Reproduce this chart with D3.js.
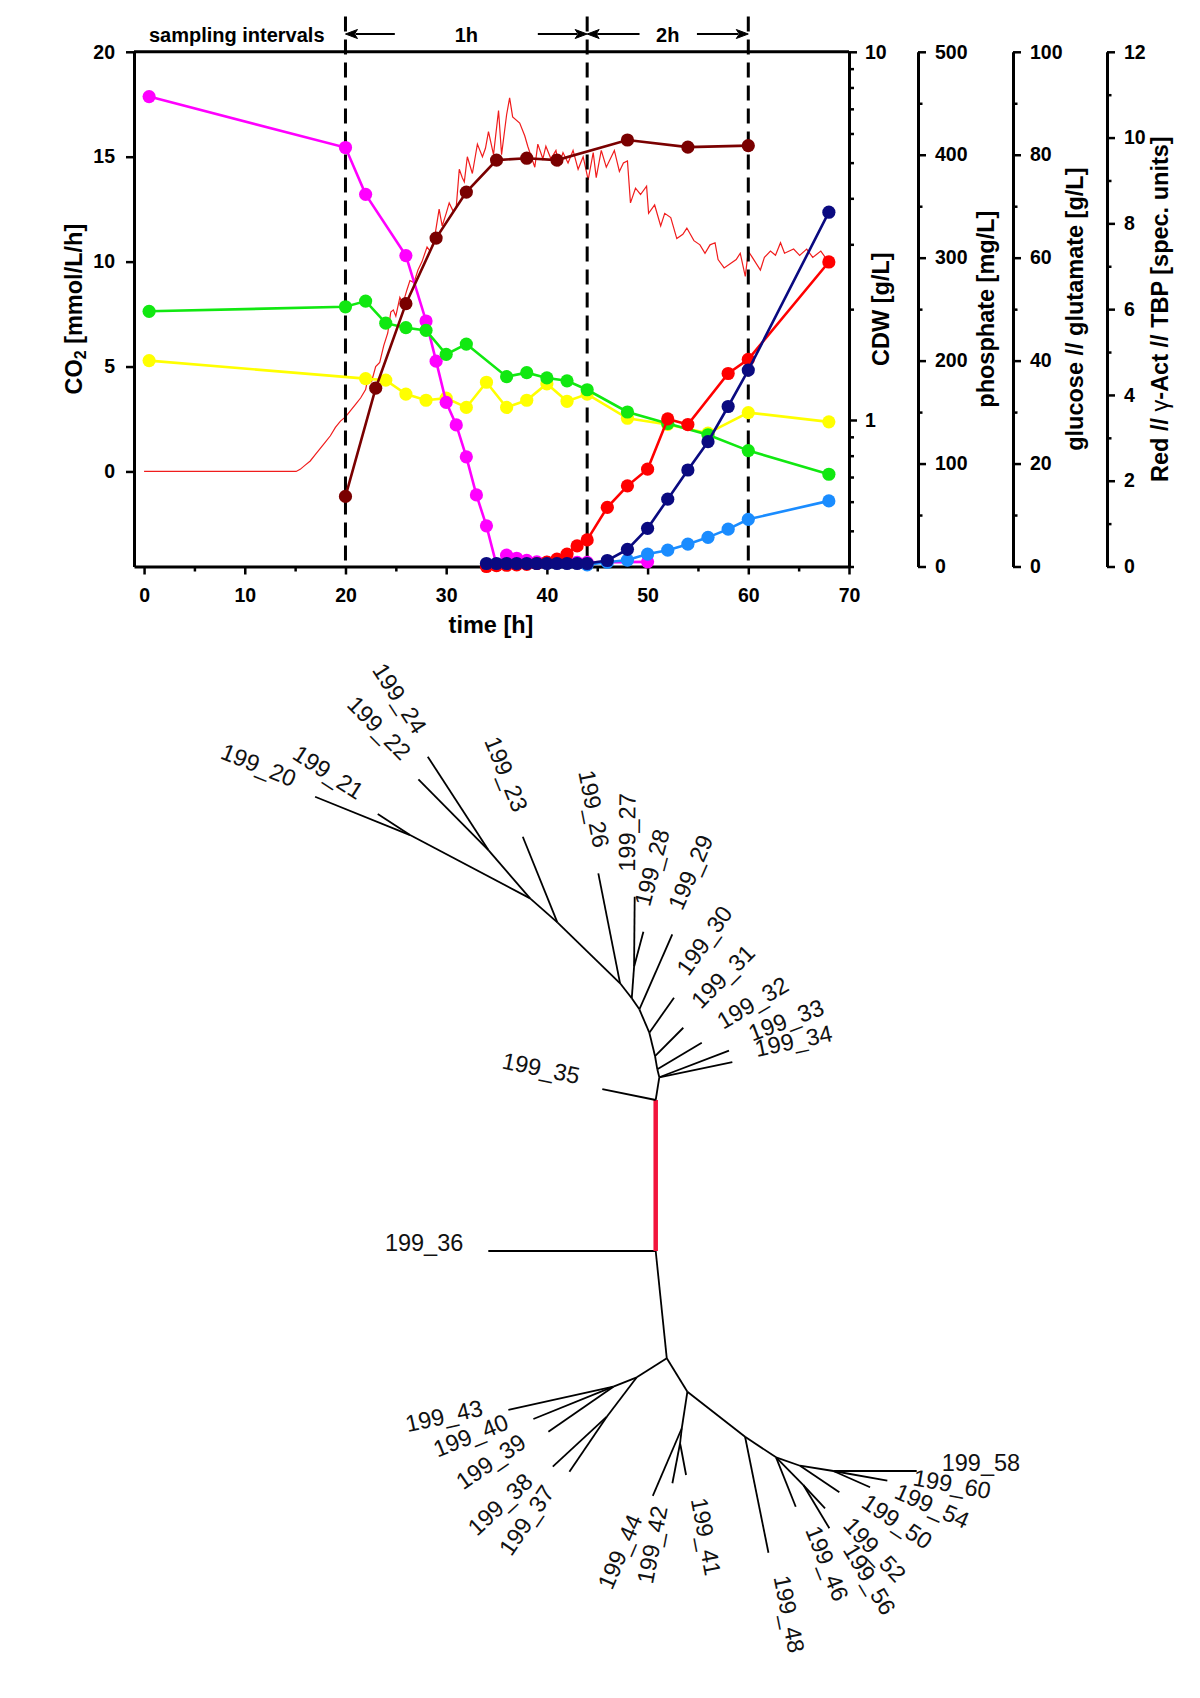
<!DOCTYPE html>
<html><head><meta charset="utf-8">
<script src="https://cdn.jsdelivr.net/npm/d3@7"></script>
<style>body{margin:0;background:#fff}svg{display:block}</style>
</head><body>
<svg id="c" width="1200" height="1698"></svg>
<script>
// ---------- tick values ----------
const timeMajor = [0,10,20,30,40,50,60,70];
const timeMinor = [5,15,25,35,45,55,65];
const co2Ticks = [0,5,10,15,20];
const cdwMajor = [1,10];
const cdwMinor = [0.4,0.5,0.6,0.7,0.8,0.9,2,3,4,5,6,7,8,9];
const phosMajor = [0,100,200,300,400,500];
const phosMinor = [50,150,250,350,450];
const glcMajor = [0,20,40,60,80,100];
const glcMinor = [10,30,50,70,90];
const specMajor = [0,2,4,6,8,10,12];
const specMinor = [1,3,5,7,9,11];
const intervalLines = [20,44,60];

// ---------- online CO2 ----------
const co2Time = [0,15.1,15.5,16,16.5,17,17.5,18,18.5,19,19.5,20,20.5,21,21.5,22,22.3,22.6,23,23.4,23.8,24.2,24.5,24.75,25,25.4,25.7,26.1,26.4,26.8,27.2,27.6,28.1,28.4,28.8,29.3,29.6,30,30.3,30.7,31,31.3,31.6,31.8,32.1,32.6,33.1,33.6,33.9,34.2,34.7,35.2,35.5,36,36.3,36.6,37.3,37.8,38.1,38.8,39.1,39.6,39.9,40.4,40.9,41.2,41.6,42.1,42.6,43.1,43.6,44.1,44.6,44.9,45.4,45.9,46.4,46.7,47.2,47.6,48,48.3,48.8,49.3,49.9,50.1,50.7,51.3,51.7,52.3,52.9,53.5,53.9,54.6,55.2,55.7,56.2,56.7,57,57.6,58.2,58.8,59.2,59.7,60,60.4,61.2,61.6,62.2,62.7,63.2,63.6,64.5,65.1,65.8,66.4,67.2,67.8];
const co2Rate = [0,0,0.1,0.3,0.5,0.8,1.1,1.4,1.7,2.1,2.4,2.6,2.9,3.2,3.5,3.9,4.6,4.3,5.0,5.2,6.0,6.6,7.6,7.7,7.4,8.3,8.0,8.65,9.1,9.0,9.6,10.0,10.7,10.5,11.0,12.5,11.7,12.3,12.8,12.4,12.6,14.4,14.0,13.8,15.0,14.2,15.6,15.0,15.4,16.2,15.1,17.2,15.1,17.0,17.8,16.9,16.6,16.0,15.5,14.5,15.6,14.9,15.5,14.9,15.3,14.6,15.2,14.7,15.3,14.4,15.0,13.9,15.2,14.0,15.3,14.5,15.0,15.3,14.3,14.7,14.8,12.8,13.5,13.2,13.6,12.3,12.7,11.7,12.3,12.1,11.1,11.3,11.6,11.0,10.8,10.4,10.8,10.9,10.1,9.7,9.9,10.1,10.4,9.3,10.5,10.2,9.6,10.2,10.5,10.3,10.9,10.4,10.6,10.3,10.6,10.2,10.5,10.1];

// ---------- offline samples ----------
const glucoseTime = [0.5,20,22,26,28,29,30,31,32,33,34,35,36,37,38,39,40,41,42,43,44,50];
const glucoseVal  = [91.3,81.4,72.3,60.4,47.7,39.9,31.9,27.5,21.3,13.9,7.9,0.3,2.2,1.6,1.2,0.9,0.8,0.8,0.8,0.8,0.8,0.9];
const phosphateTime = [0.5,20,22,24,26,28,30,32,36,38,40,42,44,48,52,56,60,68];
const phosphateVal  = [247.9,252.3,257.8,236.4,232,229.4,206.1,216.1,184.4,188.3,183.2,180.4,171.7,150.1,138.9,128,112.6,89.6];
const glutamateTime = [0.5,22,24,26,28,30,32,34,36,38,40,42,44,48,52,56,60,68];
const glutamateVal  = [40.0,36.5,36.2,33.5,32.3,32.7,30.9,35.8,30.9,32.3,35.5,32.1,33.5,28.8,27.6,25.9,29.9,28.1];
const cdwTime = [20,23,26,29,32,35,38,41,48,54,60];
const cdwVal  = [0.62,1.22,2.07,3.12,4.16,5.08,5.14,5.08,5.76,5.51,5.56];
const redTime = [34,35,36,37,38,39,40,41,42,43,44,46,48,50,52,54,58,60,68];
const redVal  = [0.0,0.02,0.03,0.04,0.05,0.07,0.1,0.17,0.29,0.48,0.62,1.38,1.88,2.27,3.44,3.31,4.5,4.83,7.1];
const actTime = [44,46,48,50,52,54,56,58,60,68];
const actVal  = [0.04,0.1,0.15,0.29,0.38,0.52,0.68,0.87,1.1,1.53];
const tbpTime = [34,35,36,37,38,39,40,41,42,43,44,46,48,50,52,54,56,58,60,68];
const tbpVal  = [0.07,0.07,0.07,0.07,0.07,0.07,0.07,0.07,0.07,0.07,0.07,0.14,0.4,0.89,1.57,2.25,2.91,3.73,4.58,8.26];

// ---------- tree (flat) ----------
const treeId     = ["R0","L36","U","L35","N34","L34","L33","N32","L32","N31","L31","N30","L30","N29","L29","N27","N28","L27","L28","N26","L26","N23","L23","N22","N24","L24","L22","N21","L20","L21","B","C","D","L43","L40","L39","E","L38","L37","F","G","L44","H","L42","L41","I","L48","J","L46","K","L52","L56","N50","L50","M","L54","L60","L58"];
const treeParent = ["","R0","R0","U","U","N34","N34","N34","N32","N32","N31","N31","N30","N30","N29","N29","N27","N28","N28","N27","N26","N26","N23","N23","N22","N24","N24","N22","N21","N21","R0","B","C","D","D","D","C","E","E","B","F","G","G","H","H","F","I","I","J","J","K","K","J","N50","N50","M","M","M"];
const branchLen  = [0,1.674,1.51,0.545,0.23,0.746,0.746,0.082,0.518,0.135,0.40,0.24,0.428,0.254,0.819,0.134,0.317,0.70,0.362,0.19,1.121,0.875,0.923,0.363,0.638,1.113,0.995,1.357,1.024,0.385,1.079,0.355,0.252,1.076,0.863,0.791,0.495,0.736,0.665,0.392,0.37,0.736,0.151,0.407,0.323,0.732,1.183,0.372,0.532,0.389,0.318,0.505,0.254,0.475,0.337,0.402,0.549,0.834];
const branchAngle= [0,180,-90,-168.4,-81,-11.8,-20.9,-104,-30.9,-99.8,-45,-103.7,-54.8,-113.1,-66.3,-124.6,-85.8,-89.5,-75.1,-127.9,-101.2,-135.8,-112,-138.7,-130.8,-123,-134.7,-152.2,-158,-147,84.1,147.7,158.1,167.5,158,145.3,127.3,137.2,124.2,58.3,98.7,113.2,96.5,100.9,79.3,38,78.6,33.6,68.3,45.4,47,59,19.3,34.1,9,23.9,10.2,0];
const treeLabel  = ["","199_36","","199_35","","199_34","199_33","","199_32","","199_31","","199_30","","199_29","","","199_27","199_28","","199_26","","199_23","","","199_24","199_22","","199_20","199_21","","","","199_43","199_40","199_39","","199_38","199_37","","","199_44","","199_42","199_41","","199_48","","199_46","","199_52","199_56","","199_50","","199_54","199_60","199_58"];
const highlightBranch = ["U"];

// ---------- drawing ----------
const svg = d3.select("#c");
svg.append("rect").attr("width",1200).attr("height",1698).attr("fill","#fff");
const FONT = "'Liberation Sans', Arial, Helvetica, sans-serif";
const L = 134, R = 849, T = 51.8, B = 566.5;

const x = d3.scaleLinear().domain([-1,70]).range([L,R]);
const yCO2 = d3.scaleLinear().domain([-4.53,20]).range([B,T]);
const yCDW = d3.scaleLog().domain([0.4,10]).range([B,T]);
const yPhos = d3.scaleLinear().domain([0,500]).range([B,T]);
const yGlc = d3.scaleLinear().domain([0,100]).range([B,T]);
const ySpec = d3.scaleLinear().domain([0,12]).range([B,T]);

function styleAxis(g, fs){
  g.selectAll("path.domain").attr("stroke","#000").attr("stroke-width",3);
  g.selectAll(".tick line").attr("stroke","#000").attr("stroke-width",2.5);
  g.selectAll(".tick text").attr("font-family",FONT).attr("font-weight","bold").attr("font-size",fs).attr("fill","#000");
}
function minorAxis(axis, pos, vals, size){
  const g = svg.append("g").attr("transform",pos).call(axis.tickValues(vals).tickSize(size).tickFormat(""));
  g.select("path.domain").remove();
  g.selectAll(".tick line").attr("stroke","#000").attr("stroke-width",2.5);
}

// CO2 online line (drawn first)
const co2Line = d3.line().x((d,i)=>x(co2Time[i])).y(d=>yCO2(d));
svg.append("path").datum(co2Rate).attr("d",co2Line).attr("fill","none").attr("stroke","#f01c1c").attr("stroke-width",1.2);

// dashed sampling interval lines
svg.selectAll("line.iv").data(intervalLines).join("line")
  .attr("x1",d=>x(d)).attr("x2",d=>x(d)).attr("y1",16.5).attr("y2",B)
  .attr("stroke","#000").attr("stroke-width",3).attr("stroke-dasharray","15,8");

// frame top line
svg.append("line").attr("x1",L).attr("x2",R).attr("y1",T).attr("y2",T).attr("stroke","#000").attr("stroke-width",3);

// axes
const gB = svg.append("g").attr("transform",`translate(0,${B})`)
  .call(d3.axisBottom(x).tickValues(timeMajor).tickSize(8).tickSizeOuter(0).tickPadding(14).tickFormat(d3.format("d")));
styleAxis(gB,19.5);
minorAxis(d3.axisBottom(x), `translate(0,${B})`, timeMinor, 5);

const gL = svg.append("g").attr("transform",`translate(${L},0)`)
  .call(d3.axisLeft(yCO2).tickValues(co2Ticks).tickSize(8).tickSizeOuter(0).tickPadding(11));
styleAxis(gL,19.5);

const gR = svg.append("g").attr("transform",`translate(${R},0)`)
  .call(d3.axisRight(yCDW).tickValues(cdwMajor).tickSize(8).tickSizeOuter(0).tickPadding(8).tickFormat(d3.format("d")));
styleAxis(gR,19.5);
minorAxis(d3.axisRight(yCDW), `translate(${R},0)`, cdwMinor, 5);

const extraAxes = [
  {pos:918, scale:yPhos, major:phosMajor, minor:phosMinor},
  {pos:1013, scale:yGlc, major:glcMajor, minor:glcMinor},
  {pos:1107, scale:ySpec, major:specMajor, minor:specMinor}
];
extraAxes.forEach(a=>{
  const g = svg.append("g").attr("transform",`translate(${a.pos},0)`)
    .call(d3.axisRight(a.scale).tickValues(a.major).tickSize(8).tickSizeOuter(0).tickPadding(9).tickFormat(d3.format("d")));
  styleAxis(g,19.5);
  minorAxis(d3.axisRight(a.scale), `translate(${a.pos},0)`, a.minor, 4.5);
});

// axis titles
function vTitle(xp, parts){
  const t = svg.append("text").attr("transform",`translate(${xp},${(T+B)/2}) rotate(-90)`)
    .attr("text-anchor","middle").attr("font-family",FONT).attr("font-weight","bold").attr("font-size",23.5).attr("fill","#000");
  parts.forEach(p=>{
    const ts = t.append("tspan").text(p.t);
    if(p.sub) ts.attr("font-size",16).attr("baseline-shift","-25%");
    if(p.normal) ts.attr("font-weight","normal");
  });
}
vTitle(82,[{t:"CO"},{t:"2",sub:true},{t:" [mmol/L/h]"}]);
vTitle(889,[{t:"CDW [g/L]"}]);
vTitle(994,[{t:"phosphate [mg/L]"}]);
vTitle(1083,[{t:"glucose // glutamate [g/L]"}]);
vTitle(1168,[{t:"Red // "},{t:"γ",normal:true},{t:"-Act // TBP [spec. units]"}]);

svg.append("text").attr("x",491).attr("y",633).attr("text-anchor","middle")
  .attr("font-family",FONT).attr("font-weight","bold").attr("font-size",23.5).text("time [h]");

// top annotations
const topTxt = [{t:"sampling intervals", v:9.2},{t:"1h", v:32},{t:"2h", v:52}];
svg.selectAll("text.top").data(topTxt).join("text")
  .attr("x",d=>x(d.v)).attr("y",41.5).attr("text-anchor","middle")
  .attr("font-family",FONT).attr("font-weight","bold").attr("font-size",20).text(d=>d.t);
const arrows = [{from:24.9,to:20},{from:39.1,to:44},{from:49.2,to:44},{from:54.9,to:60}];
const ay = 34;
arrows.forEach(a=>{
  const x0 = x(a.from), x1 = x(a.to), dir = Math.sign(x1-x0);
  svg.append("line").attr("x1",x0).attr("x2",x1-dir*10).attr("y1",ay).attr("y2",ay).attr("stroke","#000").attr("stroke-width",2.2);
  svg.append("path").attr("d",`M${x1},${ay} L${x1-dir*12},${ay-4.5} L${x1-dir*9},${ay} L${x1-dir*12},${ay+4.5} Z`).attr("fill","#000").attr("stroke","#000").attr("stroke-width",1);
});

// series
function series(times, vals, ys, color){
  const g = svg.append("g");
  const ln = d3.line().x((d,i)=>x(times[i])).y(d=>ys(d));
  g.append("path").datum(vals).attr("d",ln).attr("fill","none").attr("stroke",color).attr("stroke-width",2.6);
  g.selectAll("circle").data(vals).join("circle").attr("cx",(d,i)=>x(times[i])).attr("cy",d=>ys(d)).attr("r",6.6).attr("fill",color);
}
series(glutamateTime, glutamateVal, yGlc, "#ffff00");
series(glucoseTime, glucoseVal, yGlc, "#ff00ff");
series(phosphateTime, phosphateVal, yPhos, "#11e811");
series(cdwTime, cdwVal, yCDW, "#7a0000");
series(redTime, redVal, ySpec, "#ff0000");
series(actTime, actVal, ySpec, "#1a8cff");
series(tbpTime, tbpVal, ySpec, "#0a0a80");

// ---------- tree ----------
const rows = treeId.map((id,i)=>({id, parent:treeParent[i]||null, len:branchLen[i], ang:branchAngle[i], label:treeLabel[i]}));
const root = d3.stratify().id(d=>d.id).parentId(d=>d.parent)(rows);
const unit = d3.scaleLinear().domain([0,1]).range([0,100]);
root.each(n=>{
  if(!n.parent){ n.tx=0; n.ty=0; return; }
  const a = n.data.ang*Math.PI/180;
  n.tx = n.parent.tx + unit(n.data.len)*Math.cos(a);
  n.ty = n.parent.ty + unit(n.data.len)*Math.sin(a);
});
const tg = svg.append("g").attr("transform","translate(655.7,1251)");
const links = root.links();
tg.selectAll("line.br").data(links).join("line")
  .attr("x1",d=>d.source.tx).attr("y1",d=>d.source.ty).attr("x2",d=>d.target.tx).attr("y2",d=>d.target.ty)
  .attr("stroke",d=>highlightBranch.includes(d.target.id)?"#f2143c":"#000")
  .attr("stroke-width",d=>highlightBranch.includes(d.target.id)?4.5:1.8)
  .attr("stroke-linecap","butt");
const leaves = root.leaves();
tg.selectAll("text.lab").data(leaves).join("text")
  .attr("transform",d=>{
    const a = d.data.ang*Math.PI/180;
    const px = d.tx + 25*Math.cos(a), py = d.ty + 25*Math.sin(a);
    const flip = Math.cos(a) < -1e-6;
    const rot = flip ? d.data.ang+180 : d.data.ang;
    return `translate(${px},${py}) rotate(${rot})`;
  })
  .attr("text-anchor",d=>Math.cos(d.data.ang*Math.PI/180) < -1e-6 ? "end":"start")
  .attr("dy","0em")
  .attr("font-family",FONT).attr("font-size",23.5).attr("fill","#111")
  .text(d=>d.data.label);
</script>
</body></html>
